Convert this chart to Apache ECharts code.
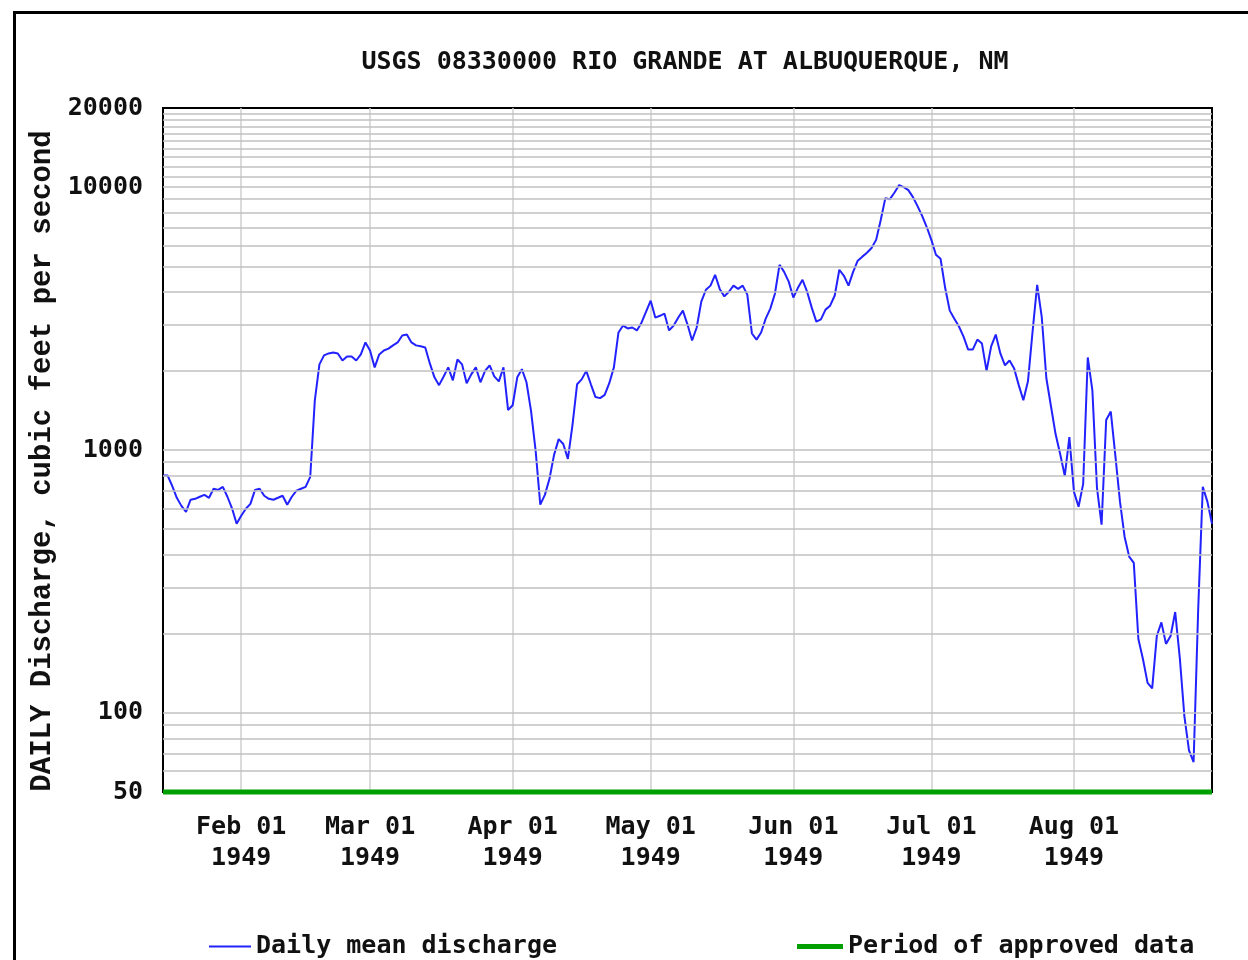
<!DOCTYPE html>
<html>
<head>
<meta charset="utf-8">
<title>USGS 08330000 Rio Grande at Albuquerque</title>
<script src="https://cdn.jsdelivr.net/npm/echarts@6/dist/echarts.min.js"></script>
<style>
  html, body { margin: 0; padding: 0; background: #fff; }
  #chart { width: 1248px; height: 960px; }
</style>
</head>
<body>
<div id="chart"></div>
<script>
// daily mean discharge, cfs, starting 1949-01-15 (one value per day through 1949-08-31)
const startDate = Date.UTC(1949, 0, 15);
const discharge = [
  800, 800, 730, 658, 613, 582, 647, 652, 664, 675,
  658, 712, 705, 724, 664, 600, 524, 562, 598, 624,
  705, 712, 670, 652, 647, 658, 670, 619, 664, 700,
  712, 724, 790, 1546, 2117, 2290, 2330, 2350, 2330, 2190,
  2270, 2270, 2190, 2310, 2565, 2390, 2062, 2310, 2390, 2430,
  2500, 2565, 2727, 2750, 2565, 2500, 2480, 2455, 2135, 1890,
  1765, 1905, 2062, 1841, 2210, 2117, 1795, 1940, 2062, 1810,
  2000, 2100, 1905, 1825, 2062, 1420, 1480, 1890, 2030, 1810,
  1405, 990, 620, 675, 777, 958, 1100, 1054, 925, 1243,
  1778, 1856, 2000, 1778, 1590, 1575, 1620, 1795, 2062, 2800,
  2975, 2900, 2925, 2850, 3050, 3360, 3700, 3190, 3240, 3300,
  2850, 2975, 3190, 3390, 3000, 2610, 2925, 3670, 4070, 4220,
  4640, 4100, 3840, 4000, 4220, 4100, 4220, 3900, 2775, 2630,
  2800, 3160, 3450, 3930, 5065, 4760, 4370, 3800, 4140, 4440,
  4000, 3480, 3080, 3140, 3420, 3540, 3870, 4850, 4600, 4220,
  4760, 5250, 5440, 5630, 5870, 6300, 7500, 9080, 9000, 9540,
  10180, 10000, 9740, 9160, 8470, 7770, 7050, 6300, 5530, 5340,
  4140, 3390, 3160, 2950, 2700, 2410, 2410, 2630, 2540, 2000,
  2480, 2750, 2330, 2100, 2190, 2040, 1765, 1546, 1825, 2820,
  4250, 3200, 1875, 1467, 1150, 966, 797, 1120, 693, 608,
  743, 2250, 1687, 718, 520, 1300, 1400, 950, 636, 468,
  393, 372, 191, 160, 130, 124, 196, 221, 183, 196,
  242, 162, 97, 72, 65, 248, 724, 636, 524
];
const approvedPeriod = ['1949-01-15', '1949-08-31'];
const yMin = 50;
const yMax = 20000;
// horizontal grid levels (every integer multiple within each decade)
const gridLevels = [
  60, 70, 80, 90, 100,
  200, 300, 400, 500, 600, 700, 800, 900, 1000,
  2000, 3000, 4000, 5000, 6000, 7000, 8000, 9000, 10000,
  11000, 12000, 13000, 14000, 15000, 16000, 17000, 18000, 19000
];
const monthNames = ['Jan', 'Feb', 'Mar', 'Apr', 'May', 'Jun', 'Jul', 'Aug', 'Sep', 'Oct', 'Nov', 'Dec'];

const dates = discharge.map((_, i) => new Date(startDate + i * 86400000).toISOString().slice(0, 10));
const isMonthStart = (i) => dates[i].slice(8) === '01';

const mono = 'DejaVu Sans Mono';
const chart = echarts.init(document.getElementById('chart'));

chart.setOption({
  animation: false,
  backgroundColor: '#fff',
  title: {
    text: 'USGS 08330000 RIO GRANDE AT ALBUQUERQUE, NM',
    left: 680, top: 45, textAlign: 'center',
    textStyle: { fontFamily: mono, fontWeight: 'bold', fontSize: 25, color: '#111' }
  },
  graphic: [{
    type: 'rect', left: 12, top: 10, silent: true,
    shape: { width: 1300, height: 1000 },
    style: { fill: 'none', stroke: '#000', lineWidth: 3 }
  }],
  legend: [{
    data: [{ name: 'Daily mean discharge', icon: 'rect' }],
    left: 204, top: 929, itemWidth: 42, itemHeight: 2, itemGap: 12,
    textStyle: { fontFamily: mono, fontWeight: 'bold', fontSize: 25, color: '#111' }
  }, {
    data: [{ name: 'Period of approved data', icon: 'rect' }],
    left: 792, top: 929, itemWidth: 46, itemHeight: 5, itemGap: 12,
    textStyle: { fontFamily: mono, fontWeight: 'bold', fontSize: 25, color: '#111' }
  }],
  grid: {
    left: 163, right: 36, top: 108, bottom: 168,
    show: true, borderColor: '#000', borderWidth: 2, backgroundColor: 'transparent'
  },
  xAxis: {
    type: 'category',
    data: dates,
    boundaryGap: false,
    axisLine: { lineStyle: { color: '#000', width: 2 } },
    axisTick: { show: false },
    axisLabel: {
      interval: (i) => isMonthStart(i),
      margin: 20,
      fontFamily: mono, fontWeight: 'bold', fontSize: 25, color: '#111', lineHeight: 31,
      formatter: (v) => monthNames[+v.slice(5, 7) - 1] + ' ' + v.slice(8) + '\n' + v.slice(0, 4)
    },
    splitLine: {
      show: true,
      interval: (i) => isMonthStart(i),
      lineStyle: { color: '#cfcfcf', width: 1.5 }
    }
  },
  yAxis: {
    type: 'log',
    logBase: 10,
    min: yMin,
    max: yMax,
    name: 'DAILY Discharge, cubic feet per second',
    nameLocation: 'middle',
    nameGap: 103,
    nameTextStyle: {
      fontFamily: 'Liberation Mono', fontWeight: 'bold', fontSize: 29, color: '#111',
      padding: [0, 22, 0, 0]
    },
    axisLine: { show: true, lineStyle: { color: '#000', width: 2 } },
    axisTick: { show: false },
    splitLine: { show: false },
    axisLabel: {
      margin: 20,
      fontFamily: mono, fontWeight: 'bold', fontSize: 25, color: '#111',
      formatter: (v) => String(Math.round(v))
    }
  },
  series: [{
    name: 'grid levels',
    type: 'line',
    data: [],
    z: 1,
    silent: true,
    markLine: {
      silent: true,
      symbol: 'none',
      label: { show: false },
      lineStyle: { color: '#c0c0c0', width: 1.5, type: 'solid' },
      data: gridLevels.map(v => ({ yAxis: v }))
    }
  }, {
    name: 'Daily mean discharge',
    type: 'line',
    data: discharge,
    z: 3,
    showSymbol: false,
    symbol: 'none',
    lineStyle: { color: '#2222ff', width: 2 },
    itemStyle: { color: '#2222ff' }
  }, {
    name: 'Period of approved data',
    type: 'line',
    data: approvedPeriod.map(d => [d, yMin]),
    z: 4,
    clip: false,
    showSymbol: false,
    symbol: 'none',
    lineStyle: { color: '#00a000', width: 5 },
    itemStyle: { color: '#00a000' }
  }]
});
</script>
</body>
</html>
